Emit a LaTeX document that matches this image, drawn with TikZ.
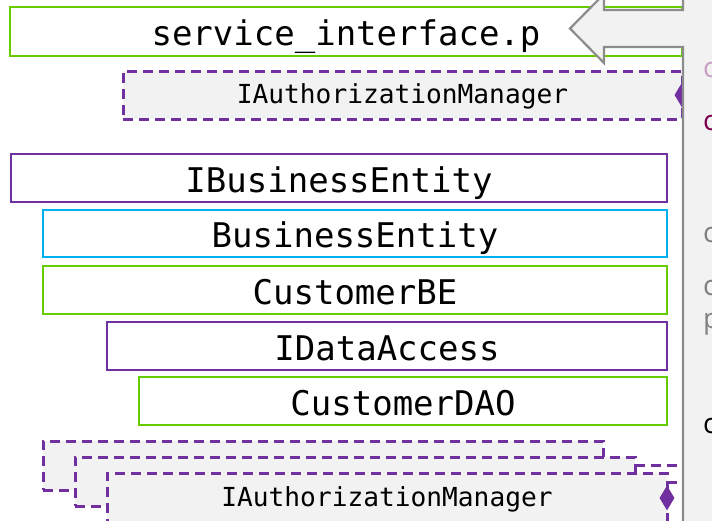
\documentclass[tikz,border=0pt]{standalone}
\usepackage{fontspec}
\setmonofont{DejaVu Sans Mono}
\newfontfamily\panelfont{Open Sans}
\usetikzlibrary{shapes.geometric}
\definecolor{bgreen}{HTML}{66CC00}
\definecolor{bpurple}{HTML}{7030A0}
\definecolor{bcyan}{HTML}{00B0F0}
\definecolor{lgray}{HTML}{F2F2F2}
\definecolor{pgray}{HTML}{8C8C8C}
\definecolor{tpink}{HTML}{C9A0C4}
\definecolor{tmaroon}{HTML}{7B0050}
\definecolor{tgray}{HTML}{808080}
\tikzset{
  solidbox/.style={draw, line width=2.6pt, fill=white, inner sep=0pt, outer sep=0pt,
    anchor=north west, font=\fontsize{34}{34}\selectfont\ttfamily,
    text height=28pt, text depth=0pt},
  dashline/.style={draw=bpurple, line width=3pt, dash pattern=on 10pt off 6pt},
  dashbox/.style={dashline, fill=lgray, inner sep=0pt, outer sep=0pt,
    anchor=north west, minimum width=560pt, font=\fontsize{26.2}{26.2}\selectfont\ttfamily,
    text height=16pt, text depth=0pt},
  pdiamond/.style={diamond, fill=bpurple, inner sep=0pt, minimum width=15pt, minimum height=25pt},
  ptext/.style={anchor=base west, inner sep=0pt, font=\fontsize{28}{28}\selectfont\panelfont}
}
\begin{document}
\begin{tikzpicture}[x=1pt,y=-1pt]
\useasboundingbox (0,0) rectangle (712,520);
% solid boxes
\node[solidbox, draw=bgreen, minimum width=672pt, minimum height=49pt] (svc) at (10,7) {service\_interface.p};
\node[solidbox, draw=bpurple, minimum width=656pt, minimum height=48pt] (ibe) at (11,154) {IBusinessEntity};
\node[solidbox, draw=bcyan, minimum width=624pt, minimum height=47pt] (be) at (43,210) {BusinessEntity};
\node[solidbox, draw=bgreen, minimum width=624pt, minimum height=48pt] (cbe) at (43,266) {CustomerBE};
\node[solidbox, draw=bpurple, minimum width=560pt, minimum height=48pt] (ida) at (107,322) {IDataAccess};
\node[solidbox, draw=bgreen, minimum width=528pt, minimum height=48pt] (cdao) at (139,377) {CustomerDAO};
% top dashed box
\node[dashbox, minimum width=559pt, minimum height=48pt] (iam1) at (123,71) {IAuthorizationManager};
\node[pdiamond] (dia1) at (iam1.east) {};
% bottom cascade
\node[dashbox, minimum height=49pt] (boxa) at (43,441) {};
\coordinate (ea) at (635,465);
\coordinate (eb) at (690,465);
\draw[dashline] (ea) -- (eb);
\node[dashbox, minimum height=49pt] (boxb) at (75,457) {};
\coordinate (fa) at (667,482);
\coordinate (fb) at (690,482);
\draw[dashline] (fa) -- (fb);
\node[dashbox, minimum height=50pt] (iam2) at (107,473) {IAuthorizationManager};
\node[pdiamond] (dia2) at (iam2.east) {};
% right panel with arrow
\filldraw[fill=lgray, draw=pgray, line width=2.2pt]
  (730,-20) -- (683,-20) -- (683,10) -- (604,10) -- (604,-6) -- (570,28.5)
  -- (604,63) -- (604,47) -- (683,47) -- (683,540) -- (730,540) -- cycle;
% panel text fragments
\node[ptext, text=tpink] (p1) at (703,77) {c};
\node[ptext, text=tmaroon] (p2) at (703,130) {c};
\node[ptext, text=tgray] (p3) at (703,242) {c};
\node[ptext, text=tgray] (p4) at (703,295) {c};
\node[ptext, text=tgray] (p5) at (703,328) {p};
\node[ptext, text=black] (p6) at (703,433) {c};
\end{tikzpicture}
\end{document}
